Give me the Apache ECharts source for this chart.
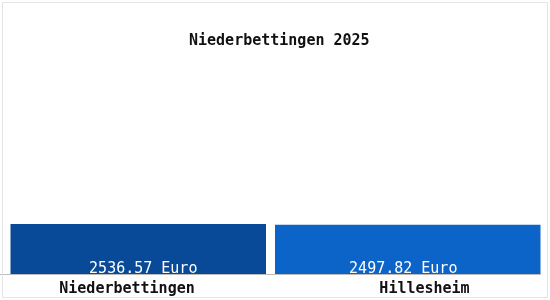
<!DOCTYPE html>
<html><head><meta charset="utf-8">
<script src="https://cdn.jsdelivr.net/npm/echarts@6/dist/echarts.min.js"></script>
<style>html,body{margin:0;padding:0;background:#fff}#c{width:550px;height:300px}</style>
</head><body><div id="c"></div>
<script>
var titleText = "Niederbettingen 2025";
var categories = ["Niederbettingen", "Hillesheim"];
var values = [2536.57, 2497.82];
var barColors = ["#084a98", "#0c64c8"];
var unit = " Euro";

var chart = echarts.init(document.getElementById('c'), null, {renderer: 'canvas'});
var font = "'DejaVu Sans Mono', monospace";
var barWidths = [256, 266];
var labelOffsets = [[5, 3], [-4.5, 3]];

function seriesFor(i) {
  return {type: 'bar', barWidth: barWidths[i], barGap: '-100%',
    data: values.map(function(v, j){ return j === i ? v : null; }),
    itemStyle: {color: barColors[i]},
    label: {show: true, position: 'insideBottom', distance: 0, offset: labelOffsets[i],
      formatter: function(p){ return p.value.toFixed(2) + unit; },
      fontFamily: font, fontSize: 15, color: '#fff'}};
}

chart.setOption({
  animation: false,
  backgroundColor: '#fff',
  title: {text: titleText, left: 184, top: 29, textStyle: {fontFamily: font, fontSize: 15, fontWeight: 'bold', color: '#111'}},
  grid: {left: 10.5, right: 9.5, top: 24, bottom: 26},
  xAxis: {type: 'category', data: categories,
    axisLine: {lineStyle: {color: '#bbb'}}, axisTick: {show: false},
    axisLabel: {fontFamily: font, fontSize: 15, fontWeight: 'bold', color: '#111', margin: 8,
      formatter: function(v, i){ return (i === 0 ? '{a|' : '{b|') + v + '}'; },
      rich: {a: {fontFamily: font, fontSize: 15, fontWeight: 'bold', color: '#111', padding: [0, 32, 0, 0]},
             b: {fontFamily: font, fontSize: 15, fontWeight: 'bold', color: '#111', padding: [0, 0, 0, 33]}}}},
  yAxis: {type: 'value', min: 0, max: 12700, show: false, splitLine: {show: false}},
  series: [seriesFor(0), seriesFor(1)],
  graphic: [
    {type: 'line', shape: {x1: 0, y1: 274.5, x2: 11, y2: 274.5}, style: {stroke: '#bbb', lineWidth: 1}, silent: true},
    {type: 'rect', shape: {x: 2.5, y: 2.5, width: 545, height: 295}, style: {fill: null, stroke: '#e4e4e4', lineWidth: 1}, silent: true}]
});
</script></body></html>
